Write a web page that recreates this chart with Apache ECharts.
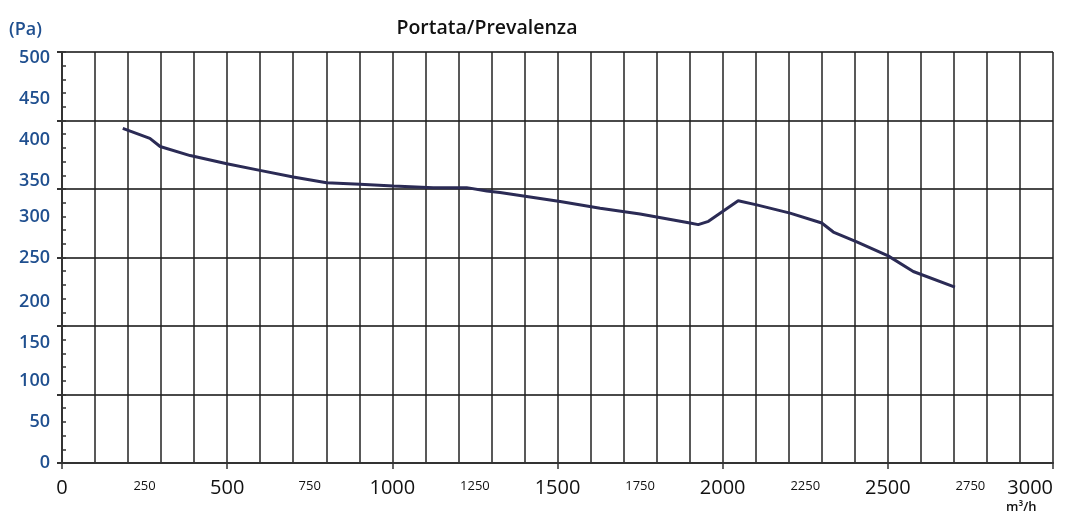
<!DOCTYPE html>
<html><head><meta charset="utf-8">
<script src="https://cdn.jsdelivr.net/npm/echarts@6/dist/echarts.min.js"></script>
<style>html,body{margin:0;padding:0;background:#fff}#c{width:1068px;height:516px}</style>
</head><body><div id="c"></div>
<script>
const titleText = 'Portata/Prevalenza';
const yUnit = '(Pa)';
const xUnit = 'm³/h';
const flow = [184, 266, 297, 388, 499, 599, 700, 801, 902, 1003, 1124, 1225, 1286, 1326, 1508, 1629, 1750, 1901, 1926, 1957, 2047, 2103, 2204, 2300, 2335, 2406, 2501, 2577, 2703];
const pressure = [407, 395, 385, 374, 364, 356, 348, 341, 339, 337, 335, 335, 331, 329, 318, 310, 303, 292, 290, 294, 319, 314, 304, 292, 281, 269, 252, 233, 214];
const xTickLabels = [0, 250, 500, 750, 1000, 1250, 1500, 1750, 2000, 2250, 2500, 2750, 3000];
const yTickLabels = [0, 50, 100, 150, 200, 250, 300, 350, 400, 450, 500];

const chart = echarts.init(document.getElementById('c'));
const F = '"Open Sans", "Noto Sans", sans-serif';
const grid = {left: 62, right: 15, top: 52, bottom: 53, outerBoundsMode: 'none', containLabel: false};
const yBlue = '#1f4f8f';
const yRich = {
  n: {fontFamily: F, fontSize: 18, fontWeight: 600, color: yBlue},
  d: {fontFamily: F, fontSize: 18, fontWeight: 600, color: yBlue, padding: [11, 0, 0, 0]},
  m: {fontFamily: F, fontSize: 18, fontWeight: 600, color: yBlue, padding: [6, 0, 0, 0]}
};
chart.setOption({
  animation: false,
  backgroundColor: '#fff',
  title: {text: titleText, left: 482, top: 13, textAlign: 'center',
    textStyle: {fontFamily: F, fontSize: 19.5, fontWeight: 600, color: '#111'}},
  grid: grid,
  graphic: [
    {type: 'text', left: 9, top: 21, style: {text: yUnit, font: '600 18px ' + F, fill: yBlue}},
    {type: 'text', left: 1006, top: 501, style: {text: xUnit, font: '600 13px ' + F, fill: '#111'}}
  ],
  xAxis: [
    {type: 'value', min: 0, max: 3000, interval: 250,
      axisLine: {show: true, lineStyle: {color: '#333', width: 2}},
      axisTick: {show: true, customValues: [0, 500, 1000, 1500, 2000, 2500, 3000], length: 6, lineStyle: {color: '#333', width: 1.5}},
      axisLabel: {customValues: xTickLabels, margin: 15, fontFamily: F, color: '#111', alignMaxLabel: 'right',
        formatter: v => (v % 500 === 0 ? '{b|' + v + '}' : '{s|' + v + '}'),
        rich: {b: {fontFamily: F, fontSize: 20, fontWeight: 500, color: '#111'}, s: {fontFamily: F, fontSize: 13, fontWeight: 500, color: '#111', padding: [2, 0, 0, 0]}}},
      splitLine: {show: false}},
    {type: 'value', min: 0, max: 3000, interval: 100, position: 'bottom',
      axisLine: {show: false}, axisTick: {show: false}, axisLabel: {show: false},
      splitLine: {show: true, lineStyle: {color: '#222', width: 1.5}}}
  ],
  yAxis: [
    {type: 'value', min: 0, max: 500, interval: 50,
      axisLine: {show: true, lineStyle: {color: '#333', width: 2}},
      axisTick: {show: false},
      axisLabel: {customValues: yTickLabels, margin: 12,
        formatter: v => (v >= 350 ? '{d|' + v + '}' : (v === 150 || v === 200 ? '{m|' + v + '}' : '{n|' + v + '}')),
        rich: yRich},
      splitLine: {show: false}},
    {type: 'value', min: 0, max: 500, interval: 500 / 6, position: 'left',
      axisLine: {show: false}, axisLabel: {show: false},
      axisTick: {show: true, length: 5, lineStyle: {color: '#333', width: 2}},
      splitLine: {show: true, lineStyle: {color: '#4a4a4a', width: 2}}},
    {type: 'value', min: 0, max: 500, interval: 500 / 30, position: 'left',
      axisLine: {show: false}, axisLabel: {show: false},
      axisTick: {show: true, inside: true, length: 4, lineStyle: {color: '#333', width: 1.5}},
      splitLine: {show: false}}
  ],
  series: [{
    type: 'line', xAxisIndex: 0, yAxisIndex: 0,
    data: flow.map((x, i) => [x, pressure[i]]),
    showSymbol: false, smooth: false,
    lineStyle: {color: '#2b2b55', width: 3}
  }]
});
</script></body></html>
